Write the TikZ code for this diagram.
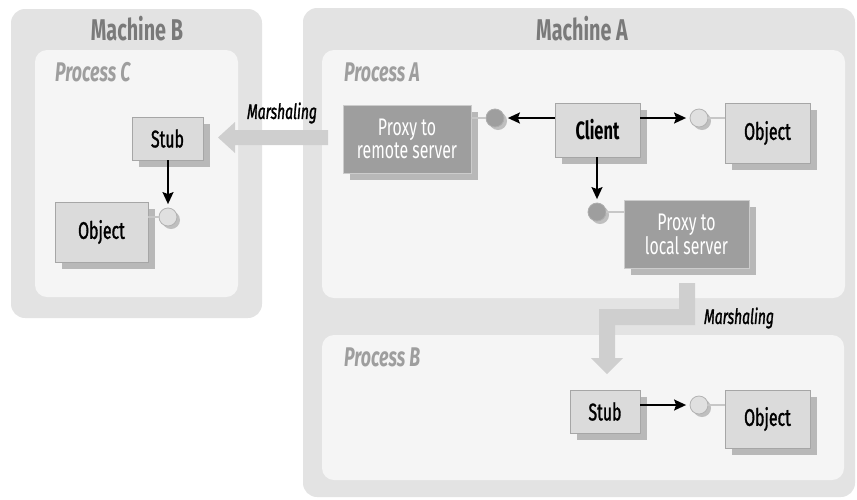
\documentclass[tikz,border=0pt]{standalone}
\usepackage{fontspec}
\setmainfont{Fira Sans}[FakeStretch=0.66]
\newfontfamily\medfont{Fira Sans}[FakeStretch=0.66,FakeBold=1.3]
\usetikzlibrary{arrows.meta,shadows}

\begin{document}
\begin{tikzpicture}[x=1pt,y=-1pt,->,>={Stealth[length=12pt,width=11pt,inset=2pt]},
    shorten >=3.5pt,line width=1.7pt,
    machine/.style={fill=black!11,rounded corners=14pt,inner sep=0pt},
    process/.style={fill=black!4,rounded corners=12pt,inner sep=0pt},
    title/.style={text=black!52,font=\bfseries\fontsize{30}{31}\selectfont},
    proclabel/.style={anchor=west,text=black!38,font=\bfseries\itshape\fontsize{27}{28}\selectfont},
    marshlabel/.style={font=\medfont\itshape\fontsize{21}{22}\selectfont},
    marsh/.style={fill=black!19},
    objbox/.style={draw=black!35,fill=black!14,line width=0.8pt,inner sep=0pt,
      drop shadow={shadow xshift=7pt,shadow yshift=-7pt,fill=black!28,opacity=1},
      font=\medfont\fontsize{24}{25}\selectfont},
    proxybox/.style={objbox,fill=black!38,draw=black!20,text=white,align=center,
      font=\fontsize{24}{23}\selectfont},
    plug/.style={circle,minimum size=18pt,inner sep=0pt,draw=black!30,fill=black!12,line width=0.8pt,
      drop shadow={shadow xshift=3pt,shadow yshift=-3pt,fill=black!25,opacity=1}},
    darkplug/.style={plug,fill=black!38,draw=black!32},
    stem/.style={-,shorten >=0pt,draw=black!22,line width=1.4pt}]

    \useasboundingbox (0,0) rectangle (857,499);

    % machines and processes
    \node[machine,minimum width=251pt,minimum height=309pt] (machB) at (136.5,163.5) {};
    \node[process,minimum width=203pt,minimum height=247pt] (procC) at (136.5,173.5) {};
    \node[machine,minimum width=552pt,minimum height=489pt] (machA) at (579,252.5) {};
    \node[process,minimum width=523pt,minimum height=248pt] (procA) at (583.5,174) {};
    \node[process,minimum width=522pt,minimum height=145pt] (procB) at (583,407.5) {};

    \node[title] (titleB) at (137,29) {Machine B};
    \node[title] (titleA) at (582,29) {Machine A};
    \node[proclabel] (labC) at (51,72) {Process C};
    \node[proclabel] (labA) at (340,72) {Process A};
    \node[proclabel] (labB) at (340,357) {Process B};

    % marshaling
    \fill[marsh] (328,130) -- (328,145) -- (235,145) -- (235,153) -- (218,137.5)
      -- (235,122) -- (235,130) -- cycle;
    \fill[marsh] (679,283) -- (695,283) -- (695,325) -- (615,325) -- (615,358)
      -- (623,358) -- (607,374) -- (591,358) -- (599,358) -- (599,309) -- (679,309) -- cycle;
    \node[marshlabel] (marshB) at (282,113) {Marshaling};
    \node[marshlabel] (marshA) at (739,318) {Marshaling};

    % machine B
    \node[objbox,minimum width=71pt,minimum height=43pt] (stubB) at (167.5,138.5) {Stub};
    \node[objbox,minimum width=93pt,minimum height=60pt] (objB) at (101.5,232) {Object};
    \node[plug] (plugB) at (168,217) {};

    % machine A
    \node[proxybox,minimum width=128pt,minimum height=68pt] (proxyR) at (407,139) {Proxy to\\remote server};
    \node[darkplug] (plugR) at (495,118) {};
    \node[objbox,minimum width=85pt,minimum height=54pt,font=\bfseries\fontsize{25}{26}\selectfont] (client) at (597.5,130) {Client};
    \node[plug] (plugO) at (699,118) {};
    \node[objbox,minimum width=85pt,minimum height=60pt] (objA) at (767.5,133) {Object};
    \node[darkplug] (plugL) at (597,212) {};
    \node[proxybox,minimum width=125pt,minimum height=68pt] (proxyL) at (686.5,234) {Proxy to\\local server};
    \node[objbox,minimum width=70pt,minimum height=43pt] (stubA) at (605,411.5) {Stub};
    \node[plug] (plugS) at (699,405) {};
    \node[objbox,minimum width=85pt,minimum height=58pt] (objA2) at (767.5,419) {Object};

    \draw[stem] (objB.east |- plugB) -- (plugB);
    \draw[stem] (proxyR.east |- plugR) -- (plugR);
    \draw[stem] (objA.west |- plugO) -- (plugO);
    \draw[stem] (proxyL.west |- plugL) -- (plugL);
    \draw[stem] (objA2.west |- plugS) -- (plugS);

    \path (plugB |- stubB.south) edge (plugB)
    (client.west |- plugR) edge (plugR)
    (client.east |- plugO) edge (plugO)
    (plugL |- client.south) edge (plugL)
    (stubA.east |- plugS) edge (plugS);

\end{tikzpicture}
\end{document}
